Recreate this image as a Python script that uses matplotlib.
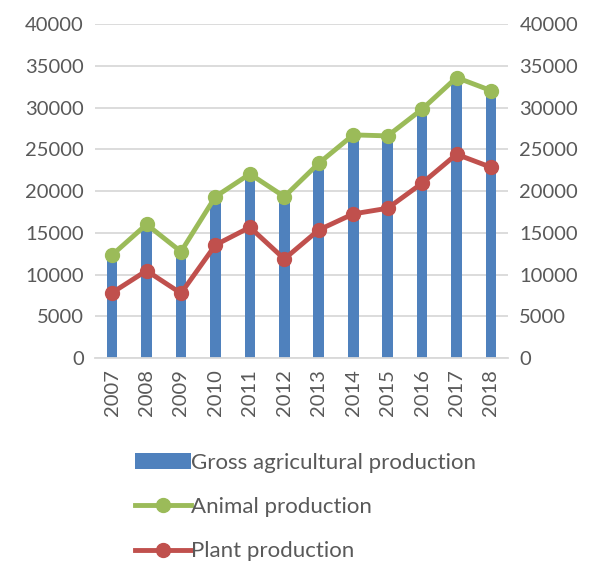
import matplotlib.pyplot as plt
import numpy as np

# data
years = ['2007', '2008', '2009', '2010', '2011', '2012',
         '2013', '2014', '2015', '2016', '2017', '2018']
gross = [12300, 16000, 12700, 19300, 22000, 19300,
         23300, 26700, 26600, 29800, 33600, 32000]
animal = [12350, 16020, 12750, 19340, 22060, 19340,
          23340, 26740, 26620, 29820, 33610, 32050]
plant = [7830, 10470, 7760, 13550, 15670, 11870,
         15350, 17270, 17950, 20950, 24420, 22860]

txt_color = '#595959'
grid_color = '#d9d9d9'
plt.rcParams['font.family'] = ['Lato', 'DejaVu Sans']

fig = plt.figure(figsize=(5.93, 5.63), dpi=100)
ax = fig.add_axes([0.160, 0.364, 0.697, 0.593])

x = np.arange(len(years))
b = ax.bar(x, gross, width=0.31, color='#4F81BD', zorder=2,
           label='Gross agricultural production')
l1, = ax.plot(x, animal, color='#9BBB59', lw=3.5, marker='o', ms=10,
              zorder=3, label='Animal production')
l2, = ax.plot(x, plant, color='#C0504D', lw=3.5, marker='o', ms=10,
              zorder=3, label='Plant production')

ax.set_xlim(-0.5, len(years) - 0.5)
ax.set_ylim(0, 40000)
ax.set_yticks(range(0, 40001, 5000))
ax.yaxis.grid(True, color=grid_color, lw=1.3, zorder=0)
ax.set_axisbelow(True)
ax.set_xticks(x)
ax.set_xticklabels(years, rotation=90)
ax.tick_params(length=0, labelsize=14.5, colors=txt_color, pad=8)
for s in ['top', 'right', 'left']:
    ax.spines[s].set_visible(False)
ax.spines['bottom'].set_color(grid_color)
ax.spines['bottom'].set_linewidth(1.3)

# secondary axis, same scale
ax2 = ax.twinx()
ax2.set_ylim(0, 40000)
ax2.set_yticks(range(0, 40001, 5000))
ax2.tick_params(length=0, labelsize=14.5, colors=txt_color, pad=8)
for s in ax2.spines.values():
    s.set_visible(False)

leg = fig.legend([b, l1, l2],
                 ['Gross agricultural production', 'Animal production',
                  'Plant production'],
                 loc='upper left', bbox_to_anchor=(0.209, 0.216),
                 frameon=False, fontsize=16, labelspacing=1.1,
                 handlelength=2.5, handletextpad=0.0, borderpad=0)
for t in leg.get_texts():
    t.set_color(txt_color)

fig.savefig('out.png', dpi=100, facecolor='white')
